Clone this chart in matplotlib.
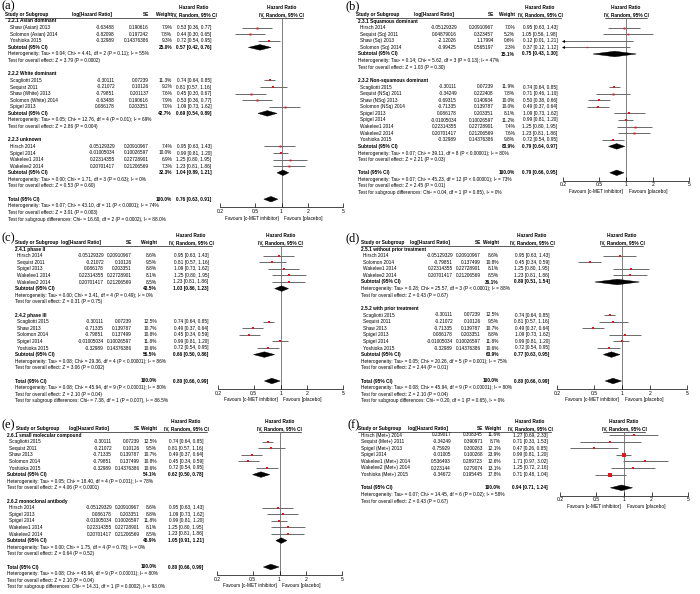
import math
import matplotlib
matplotlib.use("Agg")
import matplotlib.pyplot as plt
from matplotlib.patches import Polygon
from matplotlib.ticker import FixedLocator, NullLocator

plt.rcParams["font.family"] = ["Liberation Sans", "DejaVu Sans"]

W, H = 700, 594
ROW = 6.6          # px between table rows
FS = 3.4           # table font size
RED = "#e8141b"
GREY = "#6a6a6a"
TICKS = [0.2, 0.5, 1, 2, 5]
TICK_LABELS = ["0.2", "0.5", "1", "2", "5"]

# study rows: (name, log HR, SE, weight %, HR, lower, upper)
# subtotal/total: (weight %, HR, lower, upper)

# ---- (a) ethnicity ----
a_asian = [
    ("Shaw (Asian) 2013", -0.63488, 0.190616, 7.9, 0.53, 0.36, 0.77),
    ("Solomon (Asian) 2014", -0.82098, 0.197242, 7.8, 0.44, 0.30, 0.65),
    ("Yoshioka 2015", -0.32989, 0.14376386, 9.3, 0.72, 0.54, 0.95),
]
a_asian_sub = (25.0, 0.57, 0.42, 0.76)
a_asian_notes = ["Heterogeneity: Tau² = 0.04; Chi² = 4.41, df = 2 (P = 0.11); I² = 55%",
                 "Test for overall effect: Z = 3.79 (P = 0.0002)"]
a_white = [
    ("Scagliotti 2015", -0.30111, 0.07239, 11.3, 0.74, 0.64, 0.85),
    ("Sequist 2011", -0.21072, 0.10126, 9.2, 0.81, 0.57, 1.16),
    ("Shaw (White) 2013", -0.79851, 0.201137, 7.6, 0.45, 0.30, 0.67),
    ("Solomon (White) 2014", -0.63488, 0.190616, 7.9, 0.53, 0.36, 0.77),
    ("Spigel 2013", 0.086178, 0.203351, 7.0, 1.09, 0.73, 1.62),
]
a_white_sub = (42.7, 0.69, 0.54, 0.89)
a_white_notes = ["Heterogeneity: Tau² = 0.05; Chi² = 12.76, df = 4 (P = 0.01); I² = 69%",
                 "Test for overall effect: Z = 2.86 (P = 0.004)"]
a_unknown = [
    ("Hirsch 2014", -0.05129329, 0.20910967, 7.4, 0.95, 0.63, 1.43),
    ("Spigel 2014", -0.01005034, 0.10026597, 10.0, 0.99, 0.81, 1.20),
    ("Wakelee1 2014", 0.22314355, 0.22728901, 6.9, 1.25, 0.80, 1.95),
    ("Wakelee2 2014", 0.20701417, 0.21206569, 7.3, 1.23, 0.81, 1.86),
]
a_unknown_sub = (32.3, 1.04, 0.89, 1.21)
a_unknown_notes = ["Heterogeneity: Tau² = 0.00; Chi² = 1.71, df = 3 (P = 0.63); I² = 0%",
                   "Test for overall effect: Z = 0.53 (P = 0.60)"]
a_total = (100.0, 0.76, 0.63, 0.91)
a_total_notes = ["Heterogeneity: Tau² = 0.07; Chi² = 43.10, df = 11 (P < 0.0001); I² = 74%",
                 "Test for overall effect: Z = 3.01 (P = 0.003)",
                 "Test for subgroup differences: Chi² = 16.60, df = 2 (P = 0.0002), I² = 88.0%"]

# ---- (b) histology ----
b_sq = [
    ("Hirsch 2014", -0.05129329, 0.20910967, 7.0, 0.95, 0.63, 1.43),
    ("Sequist (Sq) 2011", 0.04879016, 0.323457, 5.2, 1.05, 0.56, 1.98),
    ("Shaw (Sq) 2013", -2.12026, 1.17994, 0.6, 0.12, 0.01, 1.21),
    ("Solomon (Sq) 2014", -0.99425, 0.565197, 2.3, 0.37, 0.12, 1.12),
]
b_sq_sub = (15.1, 0.75, 0.43, 1.30)
b_sq_notes = ["Heterogeneity: Tau² = 0.14; Chi² = 5.62, df = 3 (P = 0.13); I² = 47%",
              "Test for overall effect: Z = 1.03 (P = 0.30)"]
b_nsq = [
    ("Scagliotti 2015", -0.30111, 0.07239, 11.9, 0.74, 0.64, 0.85),
    ("Sequist (NSq) 2011", -0.34249, 0.222408, 7.8, 0.71, 0.46, 1.10),
    ("Shaw (NSq) 2013", -0.69315, 0.140934, 10.0, 0.50, 0.38, 0.66),
    ("Solomon (NSq) 2014", -0.71335, 0.139787, 10.0, 0.49, 0.37, 0.64),
    ("Spigel 2013", 0.086178, 0.203351, 8.1, 1.09, 0.73, 1.62),
    ("Spigel 2014", -0.01005034, 0.10026597, 11.2, 0.99, 0.81, 1.20),
    ("Wakelee1 2014", 0.22314355, 0.22728901, 7.4, 1.25, 0.80, 1.95),
    ("Wakelee2 2014", 0.20701417, 0.21206569, 7.6, 1.23, 0.81, 1.86),
    ("Yoshioka 2015", -0.32989, 0.14376386, 9.8, 0.72, 0.54, 0.95),
]
b_nsq_sub = (83.9, 0.79, 0.64, 0.97)
b_nsq_notes = ["Heterogeneity: Tau² = 0.07; Chi² = 39.11, df = 8 (P < 0.00001); I² = 80%",
               "Test for overall effect: Z = 2.21 (P = 0.03)"]
b_total = (100.0, 0.79, 0.66, 0.95)
b_total_notes = ["Heterogeneity: Tau² = 0.07; Chi² = 45.23, df = 12 (P < 0.00001); I² = 73%",
                 "Test for overall effect: Z = 2.45 (P = 0.01)",
                 "Test for subgroup differences: Chi² = 0.04, df = 1 (P = 0.85), I² = 0%"]

# ---- (c) trial phase ----
c_ph2 = [
    ("Hirsch 2014", -0.05129329, 0.20910967, 8.6, 0.95, 0.63, 1.43),
    ("Sequist 2011", -0.21072, 0.10126, 9.5, 0.81, 0.57, 1.16),
    ("Spigel 2013", 0.086178, 0.203351, 8.8, 1.09, 0.73, 1.62),
    ("Wakelee1 2014", 0.22314355, 0.22728901, 8.1, 1.25, 0.80, 1.95),
    ("Wakelee2 2014", 0.20701417, 0.21206569, 8.5, 1.23, 0.81, 1.86),
]
c_ph2_sub = (43.5, 1.03, 0.86, 1.23)
c_ph2_notes = ["Heterogeneity: Tau² = 0.00; Chi² = 3.41, df = 4 (P = 0.49); I² = 0%",
               "Test for overall effect: Z = 0.31 (P = 0.75)"]
c_ph3 = [
    ("Scagliotti 2015", -0.30111, 0.07239, 12.5, 0.74, 0.64, 0.85),
    ("Shaw 2013", -0.71335, 0.139787, 10.7, 0.49, 0.37, 0.64),
    ("Solomon 2014", -0.79851, 0.137499, 10.8, 0.45, 0.34, 0.59),
    ("Spigel 2014", -0.01005034, 0.10026597, 11.8, 0.99, 0.81, 1.20),
    ("Yoshioka 2015", -0.32989, 0.14376386, 10.6, 0.72, 0.54, 0.95),
]
c_ph3_sub = (56.5, 0.66, 0.50, 0.86)
c_ph3_notes = ["Heterogeneity: Tau² = 0.08; Chi² = 29.36, df = 4 (P < 0.00001); I² = 86%",
               "Test for overall effect: Z = 3.06 (P = 0.002)"]
c_total = (100.0, 0.80, 0.66, 0.99)
c_total_notes = ["Heterogeneity: Tau² = 0.08; Chi² = 45.94, df = 9 (P < 0.00001); I² = 80%",
                 "Test for overall effect: Z = 2.10 (P = 0.04)",
                 "Test for subgroup differences: Chi² = 7.38, df = 1 (P = 0.007), I² = 86.5%"]

# ---- (d) prior treatment ----
d_without = [
    ("Hirsch 2014", -0.05129329, 0.20910967, 8.6, 0.95, 0.63, 1.43),
    ("Solomon 2014", -0.79851, 0.137499, 10.8, 0.45, 0.34, 0.59),
    ("Wakelee1 2014", 0.22314355, 0.22728901, 8.1, 1.25, 0.80, 1.95),
    ("Wakelee2 2014", 0.20701417, 0.21206569, 8.5, 1.23, 0.81, 1.86),
]
d_without_sub = (36.1, 0.89, 0.51, 1.54)
d_without_notes = ["Heterogeneity: Tau² = 0.28; Chi² = 25.57, df = 3 (P < 0.0001); I² = 88%",
                   "Test for overall effect: Z = 0.43 (P = 0.67)"]
d_with = [
    ("Scagliotti 2015", -0.30111, 0.07239, 12.5, 0.74, 0.64, 0.85),
    ("Sequist 2011", -0.21072, 0.10126, 9.5, 0.81, 0.57, 1.16),
    ("Shaw 2013", -0.71335, 0.139787, 10.7, 0.49, 0.37, 0.64),
    ("Spigel 2013", 0.086178, 0.203351, 8.8, 1.09, 0.73, 1.62),
    ("Spigel 2014", -0.01005034, 0.10026597, 11.8, 0.99, 0.81, 1.20),
    ("Yoshioka 2015", -0.32989, 0.14376386, 10.6, 0.72, 0.54, 0.95),
]
d_with_sub = (63.9, 0.77, 0.63, 0.95)
d_with_notes = ["Heterogeneity: Tau² = 0.05; Chi² = 20.26, df = 5 (P = 0.001); I² = 75%",
                "Test for overall effect: Z = 2.44 (P = 0.01)"]
d_total = (100.0, 0.80, 0.66, 0.99)
d_total_notes = ["Heterogeneity: Tau² = 0.08; Chi² = 45.94, df = 9 (P < 0.00001); I² = 80%",
                 "Test for overall effect: Z = 2.10 (P = 0.04)",
                 "Test for subgroup differences: Chi² = 0.20, df = 1 (P = 0.65), I² = 0%"]

# ---- (e) drug type ----
e_small = [
    ("Scagliotti 2015", -0.30111, 0.07239, 12.5, 0.74, 0.64, 0.85),
    ("Sequist 2011", -0.21072, 0.10126, 9.5, 0.81, 0.57, 1.16),
    ("Shaw 2013", -0.71335, 0.139787, 10.7, 0.49, 0.37, 0.64),
    ("Solomon 2014", -0.79851, 0.137499, 10.8, 0.45, 0.34, 0.59),
    ("Yoshioka 2015", -0.32989, 0.14376386, 10.6, 0.72, 0.54, 0.95),
]
e_small_sub = (54.1, 0.62, 0.50, 0.78)
e_small_notes = ["Heterogeneity: Tau² = 0.05; Chi² = 18.40, df = 4 (P = 0.001); I² = 78%",
                 "Test for overall effect: Z = 4.06 (P < 0.0001)"]
e_mab = [
    ("Hirsch 2014", -0.05129329, 0.20910967, 8.6, 0.95, 0.63, 1.43),
    ("Spigel 2013", 0.086178, 0.203351, 8.8, 1.09, 0.73, 1.62),
    ("Spigel 2014", -0.01005034, 0.10026597, 11.8, 0.99, 0.81, 1.20),
    ("Wakelee1 2014", 0.22314355, 0.22728901, 8.1, 1.25, 0.80, 1.95),
    ("Wakelee2 2014", 0.20701417, 0.21206569, 8.5, 1.23, 0.81, 1.86),
]
e_mab_sub = (45.9, 1.05, 0.91, 1.21)
e_mab_notes = ["Heterogeneity: Tau² = 0.00; Chi² = 1.75, df = 4 (P = 0.78); I² = 0%",
               "Test for overall effect: Z = 0.64 (P = 0.52)"]
e_total = (100.0, 0.80, 0.66, 0.99)
e_total_notes = ["Heterogeneity: Tau² = 0.08; Chi² = 45.94, df = 9 (P < 0.00001); I² = 80%",
                 "Test for overall effect: Z = 2.10 (P = 0.04)",
                 "Test for subgroup differences: Chi² = 14.31, df = 1 (P = 0.0002), I² = 93.0%"]

# ---- (f) MET-positive ----
f_met = [
    ("Hirsch (Met+) 2014", 0.239017, 0.308345, 11.6, 1.27, 0.69, 2.33),
    ("Sequist (Met+) 2011", -0.34249, 0.390971, 8.7, 0.71, 0.33, 1.53),
    ("Spigel (Met+) 2013", -0.75929, 0.300263, 12.1, 0.47, 0.26, 0.85),
    ("Spigel 2014", -0.01005, 0.100268, 23.9, 0.99, 0.81, 1.20),
    ("Wakelee1 (Met+) 2014", 0.536493, 0.289723, 12.6, 1.71, 0.97, 3.02),
    ("Wakelee2 (Met+) 2014", 0.223144, 0.279074, 13.1, 1.25, 0.72, 2.16),
    ("Yoshioka (Met+) 2015", -0.34672, 0.195445, 17.8, 0.71, 0.48, 1.04),
]
f_total = (100.0, 0.94, 0.71, 1.24)
f_total_notes = ["Heterogeneity: Tau² = 0.07; Chi² = 14.45, df = 6 (P = 0.02); I² = 58%",
                 "Test for overall effect: Z = 0.43 (P = 0.67)"]

panels = [
    dict(label="(a)", lab=(1, 0), y0=21, head_x=5, title_x=8, study_x=10,
         log_r=115, se_r=149, w_r=172, hr_c=194, f_l=220, f_r=343,
         groups=[("2.2.1 Asian dominant", a_asian, a_asian_sub, a_asian_notes),
                 ("2.2.2 White dominant", a_white, a_white_sub, a_white_notes),
                 ("2.2.3 unknown", a_unknown, a_unknown_sub, a_unknown_notes)],
         total=a_total, total_notes=a_total_notes),
    dict(label="(b)", lab=(346, 0), y0=21, head_x=356, title_x=358, study_x=360,
         log_r=457, se_r=494, w_r=515, hr_c=540, f_l=563, f_r=689,
         groups=[("2.3.1 Squamous dominant", b_sq, b_sq_sub, b_sq_notes),
                 ("2.3.2 Non-squamous dominant", b_nsq, b_nsq_sub, b_nsq_notes)],
         total=b_total, total_notes=b_total_notes),
    dict(label="(c)", lab=(1, 232), y0=249, head_x=15, title_x=15, study_x=17,
         log_r=104, se_r=132, w_r=157, hr_c=191, f_l=218, f_r=343,
         groups=[("2.4.1 phase II", c_ph2, c_ph2_sub, c_ph2_notes),
                 ("2.4.2 phase III", c_ph3, c_ph3_sub, c_ph3_notes)],
         total=c_total, total_notes=c_total_notes),
    dict(label="(d)", lab=(345, 232), y0=249, head_x=361, title_x=361, study_x=363,
         log_r=453, se_r=481, w_r=499, hr_c=532, f_l=557, f_r=687,
         groups=[("2.5.1 without prior treatment", d_without, d_without_sub, d_without_notes),
                 ("2.5.2 with prior treatment", d_with, d_with_sub, d_with_notes)],
         total=d_total, total_notes=d_total_notes),
    dict(label="(e)", lab=(1, 419), y0=435, head_x=16, title_x=7, study_x=9,
         log_r=112, se_r=140, w_r=157, hr_c=186, f_l=217, f_r=342,
         groups=[("2.6.1 small molecular compound", e_small, e_small_sub, e_small_notes),
                 ("2.6.2 monoclonal antibody", e_mab, e_mab_sub, e_mab_notes)],
         total=e_total, total_notes=e_total_notes),
    dict(label="(f)", lab=(347, 419), y0=435, head_x=358, title_x=361, study_x=361,
         log_r=451, se_r=483, w_r=501, hr_c=530, f_l=560, f_r=688,
         groups=[(None, f_met, None, None)],
         total=f_total, total_notes=f_total_notes),
]


def ci_text(hr, lo, hi):
    return f"{hr:.2f} [{lo:.2f}, {hi:.2f}]"


def build_rows(groups, total, total_notes):
    rows = []
    for title, studies, sub, notes in groups:
        if title:
            rows.append(("title", title))
        for s in studies:
            rows.append(("study", s))
        if sub:
            rows.append(("sub", sub))
            for n in notes:
                rows.append(("note", n))
        rows.append(("blank", None))
    rows.append(("total", total))
    for n in total_notes:
        rows.append(("note", n))
    return rows


def draw_panel(fig, tx, p):
    rows = build_rows(p["groups"], p["total"], p["total_notes"])
    y0 = p["y0"]
    t_row = [i for i, r in enumerate(rows) if r[0] == "total"][0]
    axis_row = t_row + 1.2
    one_px = p["f_l"] + (p["f_r"] - p["f_l"]) * math.log(5.0) / math.log(25.0)

    def put(x, r, s, ha="left", bold=False):
        tx.text(x, y0 + r * ROW, s, ha=ha, va="center", fontsize=FS,
                fontweight="bold" if bold else "normal", color="black")

    tx.text(p["lab"][0], p["lab"][1], p["label"], family="Liberation Serif",
            fontsize=9, ha="left", va="top")

    # column headers
    put(p["hr_c"], -2, "Hazard Ratio", ha="center", bold=True)
    put(one_px, -2, "Hazard Ratio", ha="center", bold=True)
    put(p["head_x"], -1, "Study or Subgroup", bold=True)
    put(p["log_r"] - 3, -1, "log[Hazard Ratio]", ha="right", bold=True)
    put(p["se_r"], -1, "SE", ha="right", bold=True)
    put(p["w_r"], -1, "Weight", ha="right", bold=True)
    put(p["hr_c"], -1, "IV, Random, 95% CI", ha="center", bold=True)
    put(one_px, -1, "IV, Random, 95% CI", ha="center", bold=True)
    uy = y0 - 0.5 * ROW
    tx.plot([p["head_x"], p["hr_c"] + 21], [uy, uy], color="black", lw=0.45)
    tx.plot([one_px - 21, one_px + 21], [uy, uy], color="black", lw=0.45)

    # forest axes, y in row units
    top = y0 - 0.5 * ROW
    bot = y0 + axis_row * ROW
    ax = fig.add_axes([p["f_l"] / W, 1 - bot / H, (p["f_r"] - p["f_l"]) / W, (bot - top) / H])
    ax.patch.set_visible(False)
    ax.set_xscale("log")
    ax.set_xlim(0.2, 5)
    ax.set_ylim(axis_row, -0.5)
    for s in ("top", "left", "right"):
        ax.spines[s].set_visible(False)
    ax.spines["bottom"].set_linewidth(0.5)
    ax.xaxis.set_major_locator(FixedLocator(TICKS))
    ax.xaxis.set_minor_locator(NullLocator())
    ax.set_xticklabels(TICK_LABELS)
    ax.tick_params(axis="x", direction="in", length=3, width=0.5, labelsize=FS + 0.2, pad=1.2)
    ax.set_yticks([])
    ax.axvline(1, color=GREY, lw=0.6, zorder=1)
    ax.text(0.93, t_row + 2.85, "Favours [c-MET inhibitor]", ha="right", va="center",
            fontsize=FS, clip_on=False)
    ax.text(1.07, t_row + 2.85, "Favours [placebo]", ha="left", va="center",
            fontsize=FS, clip_on=False)

    for i, (kind, val) in enumerate(rows):
        if kind == "title":
            put(p["title_x"], i, val, bold=True)
        elif kind == "note":
            put(p["title_x"], i, val)
        elif kind == "study":
            name, lg, se, w, hr, lo, hi = val
            put(p["study_x"], i, name)
            put(p["log_r"], i, f"{lg}", ha="right")
            put(p["se_r"], i, f"{se}", ha="right")
            put(p["w_r"], i, f"{w:.1f}%", ha="right")
            put(p["hr_c"], i, ci_text(hr, lo, hi), ha="center")
            ax.plot([max(lo, 0.2), min(hi, 5)], [i, i], color=GREY, lw=0.7,
                    solid_capstyle="butt", zorder=2)
            if lo < 0.2:
                ax.plot([0.2], [i], marker="<", ms=2.2, color="black", mew=0,
                        clip_on=False, zorder=3)
            if 0.2 <= hr <= 5:
                ax.plot([hr], [i], marker="s", ms=0.8 + 0.08 * w, color=RED,
                        mew=0, zorder=3)
        elif kind in ("sub", "total"):
            w, hr, lo, hi = val
            put(p["title_x"], i, "Subtotal (95% CI)" if kind == "sub" else "Total (95% CI)",
                bold=True)
            put(p["w_r"], i, f"{w:.1f}%", ha="right", bold=True)
            put(p["hr_c"], i, ci_text(hr, lo, hi), ha="center", bold=True)
            ax.add_patch(Polygon([(lo, i), (hr, i - 0.42), (hi, i), (hr, i + 0.42)],
                                 closed=True, fc="black", ec="black", lw=0.3, zorder=3))


fig = plt.figure(figsize=(W / 100, H / 100), dpi=100)
tx = fig.add_axes([0, 0, 1, 1])
tx.set_xlim(0, W)
tx.set_ylim(H, 0)
tx.axis("off")

for p in panels:
    draw_panel(fig, tx, p)

fig.savefig("out.png", dpi=100)
